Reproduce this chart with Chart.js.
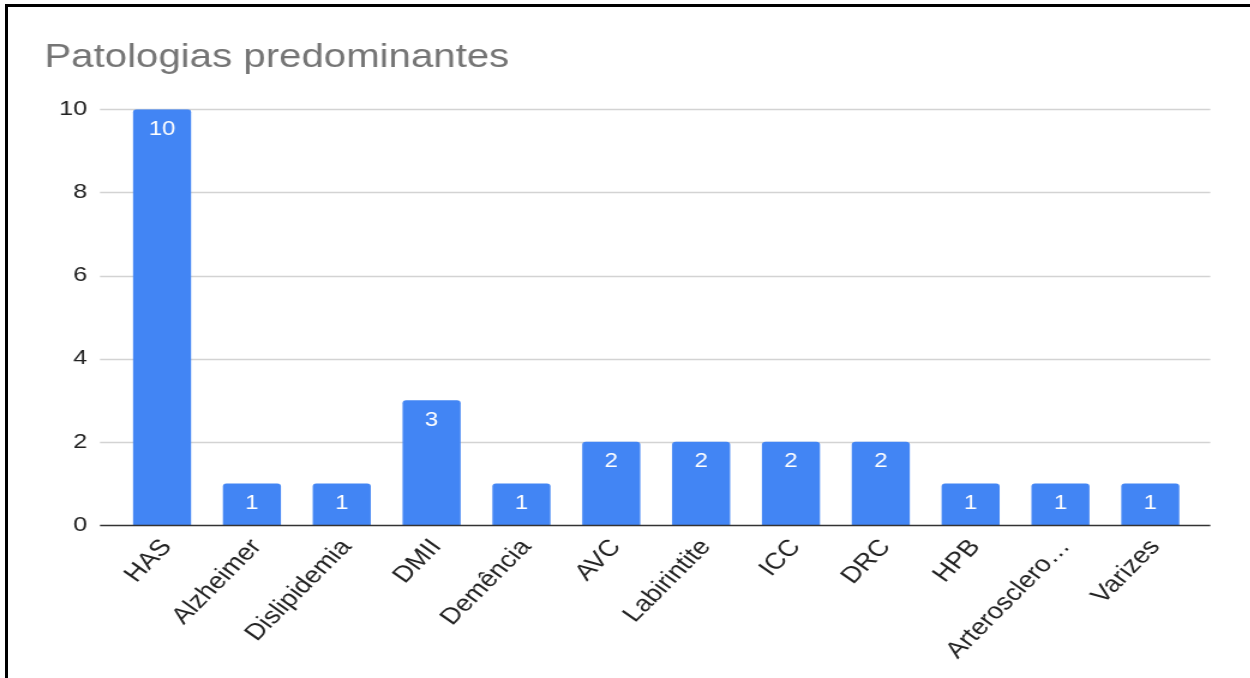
<!DOCTYPE html>
<html>
<head>
<meta charset="utf-8">
<title>Patologias predominantes</title>
<script src="https://cdn.jsdelivr.net/npm/chart.js@4"></script>
<style>
  html, body { margin: 0; padding: 0; background: #fff; overflow: hidden; }
  #wrap { position: absolute; left: 0; top: 0; width: 1250px; height: 678px; overflow: hidden; background: #fff; }
  /* chart is drawn narrower and widened to the full frame */
  #chart { position: absolute; left: 0; top: 0; transform: scaleX(1.2); transform-origin: 0 0; }
  #frame { position: absolute; left: 5px; top: 4px; width: 1300px; height: 700px;
           border-left: 3px solid #000; border-top: 3px solid #000; pointer-events: none; }
</style>
</head>
<body>
<div id="wrap">
  <canvas id="chart" width="1042" height="678"></canvas>
  <div id="frame"></div>
</div>
<script>
const categories = ['HAS', 'Alzheimer', 'Dislipidemia', 'DMII', 'Demência', 'AVC',
                    'Labirintite', 'ICC', 'DRC', 'HPB', 'Arteroscleroses', 'Varizes'];
const values = [10, 1, 1, 3, 1, 2, 2, 2, 2, 1, 1, 1];
const yTicks = [0, 2, 4, 6, 8, 10];

const FONT = 'Arial, "Liberation Sans", sans-serif';

// horizontal grid lines, a little wider than the bar area
const gridLines = {
  id: 'gridLines',
  beforeDatasetsDraw(chart) {
    const { ctx, chartArea, scales: { y } } = chart;
    ctx.save();
    y.ticks.forEach(t => {
      if (t.value === 0) return;
      const py = Math.round(y.getPixelForValue(t.value)) + 0.5;
      ctx.strokeStyle = '#d3d3d3';
      ctx.lineWidth = 1.3;
      ctx.beginPath();
      ctx.moveTo(chartArea.left - 14.3, py);
      ctx.lineTo(chartArea.right + 12.6, py);
      ctx.stroke();
    });
    ctx.restore();
  },
  afterDatasetsDraw(chart) {
    const { ctx, chartArea, scales: { y } } = chart;
    const py = Math.round(y.getPixelForValue(0)) + 0.5;
    ctx.save();
    ctx.strokeStyle = '#333';
    ctx.lineWidth = 1.5;
    ctx.beginPath();
    ctx.moveTo(chartArea.left - 14.3, py);
    ctx.lineTo(chartArea.right + 12.6, py);
    ctx.stroke();
    ctx.restore();
  }
};

// value written inside the top of each bar
const barValues = {
  id: 'barValues',
  afterDatasetsDraw(chart) {
    const { ctx } = chart;
    ctx.save();
    ctx.fillStyle = '#fff';
    ctx.font = '20px ' + FONT;
    ctx.textAlign = 'center';
    ctx.textBaseline = 'middle';
    chart.getDatasetMeta(0).data.forEach((bar, i) => {
      ctx.fillText(String(values[i]), bar.x, bar.y + 20);
    });
    ctx.restore();
  }
};

new Chart(document.getElementById('chart'), {
  type: 'bar',
  data: {
    labels: categories,
    datasets: [{
      data: values,
      backgroundColor: '#4285f4',
      borderRadius: 3,
      borderSkipped: 'start',
      barPercentage: 0.646,
      categoryPercentage: 1
    }]
  },
  options: {
    responsive: false,
    animation: false,
    devicePixelRatio: 1,
    layout: { padding: { left: 37, right: 46, top: 10, bottom: 0 } },
    plugins: {
      legend: { display: false },
      tooltip: { enabled: false },
      title: {
        display: true,
        text: 'Patologias predominantes',
        align: 'start',
        color: '#757575',
        font: { family: FONT, size: 33.5, weight: 'normal' },
        padding: { top: 28, bottom: 31 }
      }
    },
    scales: {
      x: {
        grid: { display: false, drawTicks: false },
        border: { display: false },
        ticks: {
          color: '#222',
          font: { family: FONT, size: 23 },
          minRotation: 50,
          maxRotation: 50,
          autoSkip: false,
          padding: 9,
          labelOffset: 4,
          callback(v) {
            const s = this.getLabelForValue(v);
            return s.length > 13 ? s.slice(0, 12) + '…' : s;
          }
        },
        afterFit(scale) { scale.height = 153; }
      },
      y: {
        min: 0,
        max: 10,
        grid: { display: false, drawTicks: false },
        border: { display: false },
        afterBuildTicks(scale) { scale.ticks = yTicks.map(v => ({ value: v })); },
        ticks: {
          color: '#222',
          font: { family: FONT, size: 21 },
          padding: 25
        },
        afterFit(scale) { scale.width = 60.6; }
      }
    }
  },
  plugins: [gridLines, barValues]
});
</script>
</body>
</html>
